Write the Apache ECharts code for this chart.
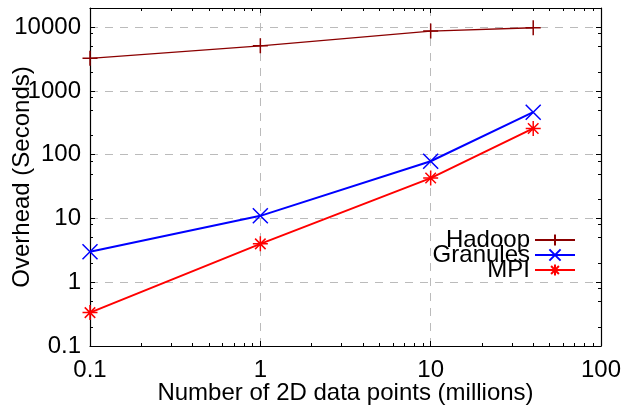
<!DOCTYPE html>
<html>
<head>
<meta charset="utf-8">
<script src="https://cdn.jsdelivr.net/npm/echarts@6/dist/echarts.min.js"></script>
<style>html,body{margin:0;padding:0;background:#fff}#c{width:626px;height:406px}</style>
</head>
<body>
<div id="c"></div>
<script>
// ---- data ----
const xValues = [0.1, 1, 10, 40];
const hadoop = [3250, 5100, 8700, 9800];
const granules = [3.0, 11, 79, 465];
const mpi = [0.334, 4.0, 43, 258];
const seriesNames = ['Hadoop', 'Granules', 'MPI'];
const xTickLabels = [0.1, 1, 10, 100];
const yTickLabels = [0.1, 1, 10, 100, 1000, 10000];
const xMinorMult = [2, 3, 4, 5, 6, 7, 8, 9];
const yMinorMult = [2, 5, 8];

const X_MIN = 0.1, X_MAX = 100, Y_MIN = 0.1, Y_MAX = 20000;

function minorTicks(majors, mults, max) {
  const out = [];
  majors.forEach(m => mults.forEach(k => { const v = +(m * k).toPrecision(6); if (v < max) out.push(v); }));
  return out;
}
const xMinor = minorTicks(xTickLabels, xMinorMult, X_MAX);
const yMinor = minorTicks(yTickLabels, yMinorMult, Y_MAX);

const FONT = 'Liberation Sans, Arial, sans-serif';
const fmt = v => { const r = +(+v).toPrecision(6); return (xTickLabels.includes(r) || yTickLabels.includes(r)) ? String(r) : ''; };

function helperAxis(kind, position, values, len, showLine) {
  const isX = kind === 'x';
  return {
    type: 'log', logBase: 10, position: position,
    min: isX ? X_MIN : Y_MIN, max: isX ? X_MAX : Y_MAX,
    axisLine: { show: showLine, onZero: false, lineStyle: { color: '#000', width: 1.2 } },
    axisTick: { show: true, inside: true, length: len, customValues: values, lineStyle: { color: '#000', width: 1 } },
    axisLabel: { show: false },
    splitLine: { show: false },
    minorTick: { show: false }
  };
}

const xMain = {
  type: 'log', logBase: 10, position: 'bottom', min: X_MIN, max: X_MAX,
  name: 'Number of 2D data points (millions)', nameLocation: 'middle', nameGap: 35, nameMoveOverlap: false,
  nameTextStyle: { fontFamily: FONT, fontSize: 24, color: '#000' },
  axisLine: { show: true, onZero: false, lineStyle: { color: '#000', width: 1.2 } },
  axisTick: { show: true, inside: true, length: 5, customValues: xTickLabels, lineStyle: { color: '#000' } },
  axisLabel: { show: true, margin: 12, fontFamily: FONT, fontSize: 24, color: '#000', formatter: fmt, customValues: xTickLabels },
  splitLine: { show: true, lineStyle: { color: '#bbbbbb', type: [8, 7], width: 1 } }
};
const yMain = {
  type: 'log', logBase: 10, position: 'left', min: Y_MIN, max: Y_MAX,
  name: 'Overhead (Seconds)', nameLocation: 'middle', nameGap: 56, nameMoveOverlap: false,
  nameTextStyle: { fontFamily: FONT, fontSize: 24, color: '#000' },
  axisLine: { show: true, onZero: false, lineStyle: { color: '#000', width: 1.2 } },
  axisTick: { show: true, inside: true, length: 5, customValues: yTickLabels, lineStyle: { color: '#000' } },
  axisLabel: { show: true, margin: 9, fontFamily: FONT, fontSize: 24, color: '#000', formatter: fmt, customValues: yTickLabels },
  splitLine: { show: true, lineStyle: { color: '#bbbbbb', type: [8, 7], width: 1 } }
};

const PLUS = 'path://M0,5L10,5M5,0L5,10';
const CROSS = 'path://M0,0L10,10M10,0L0,10';
const STAR = 'path://M0,5L10,5M5,0L5,10M1.5,1.5L8.5,8.5M8.5,1.5L1.5,8.5';

function mk(name, vals, color, symbol, width, size) {
  return {
    name: name, type: 'line', xAxisIndex: 0, yAxisIndex: 0, clip: false,
    data: xValues.map((x, i) => [x, vals[i]]),
    symbol: symbol, symbolSize: size, showAllSymbol: true,
    lineStyle: { color: color, width: width },
    itemStyle: { color: color, borderColor: color, borderWidth: 1.5 },
    emphasis: { disabled: true }, animation: false
  };
}

const chart = echarts.init(document.getElementById('c'), null, { renderer: 'canvas' });
chart.setOption({
  animation: false,
  backgroundColor: '#fff',
  grid: { left: 90, right: 25, top: 8, bottom: 60, containLabel: false, outerBoundsMode: 'none' },
  xAxis: [
    xMain,
    helperAxis('x', 'bottom', xMinor, 3, false),
    helperAxis('x', 'top', xTickLabels, 5, true),
    helperAxis('x', 'top', xMinor, 3, false)
  ],
  yAxis: [
    yMain,
    helperAxis('y', 'left', yMinor, 3, false),
    helperAxis('y', 'right', yTickLabels, 5, true),
    helperAxis('y', 'right', yMinor, 3, false)
  ],
  legend: {
    data: seriesNames,
    orient: 'vertical', align: 'right', right: 50, top: 228, padding: 0,
    itemWidth: 40, itemHeight: 14, itemGap: -9,
    textStyle: { fontFamily: FONT, fontSize: 24, color: '#000' },
    selectedMode: false
  },
  series: [
    mk(seriesNames[0], hadoop, '#8b0000', PLUS, 1.3, 15),
    mk(seriesNames[1], granules, '#0000ff', CROSS, 2, 15),
    mk(seriesNames[2], mpi, '#ff0000', STAR, 2, 15)
  ]
});
</script>
</body>
</html>
